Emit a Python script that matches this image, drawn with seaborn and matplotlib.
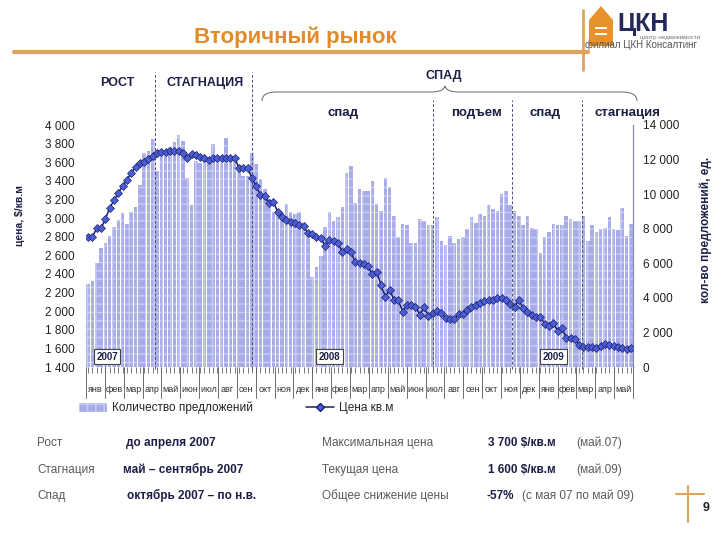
import numpy as np
import pandas as pd
import seaborn as sns
import matplotlib.pyplot as plt
from matplotlib.path import Path
from matplotlib.patches import PathPatch, Patch, Polygon, Rectangle
from matplotlib.lines import Line2D
import matplotlib.transforms as mtransforms

# weekly data, jan 2007 - may 2009
offers = [4800, 5000, 6000, 6900, 7200, 7600, 8100, 8500, 8900, 8300, 8950, 9250, 10500,
          12400, 12500, 13200, 11350, 12200, 12400, 12700, 13000, 13450, 13100, 10950, 9350,
          11900, 11800, 12000, 11800, 12900, 11900,
          12000, 13250, 12000, 12000, 11650, 11050, 11050, 12400, 11750, 10850, 10300, 9700,
          8950, 8950, 8950, 9450, 8950, 8850, 8950, 8350, 7800, 5200, 5800, 6450, 8100, 8950,
          8450, 8650, 9250, 11250, 11650, 9500,
          10300, 10200, 10200, 10750, 9450, 9050, 10950, 10400, 8750, 7500, 8300, 8200, 7200,
          7200, 8550, 8450, 8200, 8200, 8650, 7300, 7050, 7600, 7200, 7400, 7500, 8000, 8650,
          8350, 8850, 8750, 9350, 9150,
          9050, 10000, 10200, 9350, 9050, 8750, 8200, 8750, 8050, 8000, 6600, 7500, 7800, 8300,
          8200, 8200, 8750, 8550, 8450, 8450, 8750, 7300, 8200, 7800, 8000, 8050, 8650, 8000,
          7900, 9200, 7600, 8300]

price = [2800, 2800, 2890, 2890, 2990, 3110, 3190, 3270, 3345, 3410, 3485, 3550, 3590, 3605,
         3635, 3665, 3700, 3710, 3710, 3720, 3720, 3720, 3700, 3645, 3690, 3680, 3655, 3645,
         3625, 3645, 3645,
         3645, 3650, 3645, 3650, 3540, 3535, 3535, 3435, 3340, 3250, 3235, 3160, 3170, 3070,
         3015, 2980, 2955, 2945, 2925, 2910, 2840, 2825, 2800, 2785, 2700, 2765, 2755, 2735,
         2635, 2670, 2640, 2530,
         2515, 2505, 2480, 2395, 2425, 2280, 2155, 2230, 2120, 2120, 1995, 2065, 2065, 2050,
         1960, 2040, 1950, 1975, 2000, 1975, 1930, 1915, 1915, 1965, 1970, 2015, 2050, 2065,
         2085, 2110, 2120, 2125,
         2145, 2140, 2120, 2075, 2050, 2120, 2030, 1995, 1960, 1940, 1940, 1860, 1845, 1870,
         1790, 1815, 1715, 1710, 1700, 1635, 1620, 1610, 1610, 1605, 1625, 1645, 1635, 1630,
         1620, 1600, 1595, 1600]

months = ["янв", "фев", "мар", "апр", "май", "июн", "июл", "авг", "сен", "окт", "ноя", "дек"] * 2 + \
         ["янв", "фев", "мар", "апр", "май"]
years = ["2007", "2008", "2009"]
year_pos = [4.4, 56.0, 108.0]          # week index of the year boxes
period_lines = [15.6, 38.0, 80.0, 98.5, 114.6]  # dashed borders

df = pd.DataFrame({"week": np.arange(len(price)), "offers": offers, "price": price})
n = len(df)

sns.set_style("white")
plt.rcParams['font.family'] = ['Liberation Sans', 'DejaVu Sans']
plt.rcParams['hatch.linewidth'] = 1.0

navy = "#1c2046"
grey = "#5a5a5a"
orange = "#e08b2c"
bar_col = "#a7ace9"
bar_hatch = "#c9ccf3"

W, H = 720, 540
fig = plt.figure(figsize=(7.2, 5.4), dpi=100)

def fx(px):
    return px / W

def fy(py):
    return 1 - py / H

ax = fig.add_axes([fx(86), fy(367), fx(633) - fx(86), fy(125) - fy(367)])
ax2 = ax.twinx()

sns.barplot(data=df, x="week", y="offers", ax=ax2, color=bar_col, saturation=1,
            width=0.82, native_scale=True, edgecolor=bar_hatch, linewidth=0, hatch="++")
sns.lineplot(data=df, x="week", y="price", ax=ax, color="#1b1f6b", lw=1.1,
             marker="D", markersize=3.6, markerfacecolor="#4c5ed6",
             markeredgecolor="#1b1f6b", markeredgewidth=0.5)

ax.set_zorder(ax2.get_zorder() + 1)
ax.patch.set_visible(False)

ax.set_xlim(-0.5, n - 0.5)
ax.set_ylim(1400, 4000)
ax2.set_ylim(0, 14000)

lt = np.arange(1400, 4001, 200)
ax.set_yticks(lt)
ax.set_yticklabels([f"{v:,}".replace(",", " ") for v in lt], fontsize=8.5, color="#222")
rt = np.arange(0, 14001, 2000)
ax2.set_yticks(rt)
ax2.set_yticklabels([f"{v:,}".replace(",", " ") for v in rt], fontsize=8.5, color="#222")
ax.tick_params(axis="y", length=0, pad=8)
ax2.tick_params(axis="y", length=0, pad=7)
ax.set_xlabel("")
ax.set_ylabel("")
ax2.set_ylabel("")

# weekly ticks
ax.set_xticks(np.arange(n))
ax.set_xticklabels([])
ax.tick_params(axis="x", length=4, width=0.5, color="#444", direction="out", bottom=True)

for s in ["top", "left", "right", "bottom"]:
    ax.spines[s].set_visible(False)
for s in ["top", "left", "bottom"]:
    ax2.spines[s].set_visible(False)
ax2.spines["right"].set_color("#8a8fa8")
ax2.spines["right"].set_linewidth(0.9)

trans = mtransforms.blended_transform_factory(ax.transData, ax.transAxes)

# month labels and separators
nm = len(months)
for k in range(nm + 1):
    xb = -0.5 + n * k / nm
    ax.add_line(Line2D([xb, xb], [0, -0.128], transform=trans, color="#555",
                       lw=0.6, clip_on=False))
for k, m in enumerate(months):
    xc = -0.5 + n * (k + 0.5) / nm
    ax.text(xc, -0.095, m, transform=trans, ha="center", va="center",
            fontsize=6.5, color="#333")

# year boxes
for yr, xp in zip(years, year_pos):
    ax.text(xp, 0.043, yr, transform=trans, ha="center", va="center", fontsize=7,
            fontweight="bold", color=navy, zorder=5,
            bbox=dict(boxstyle="square,pad=0.25", fc="white", ec="#444", lw=0.8))

# dashed period borders
tops = [1.219, 1.219, 1.103, 1.103, 1.103]
for xp, tp in zip(period_lines, tops):
    ax.add_line(Line2D([xp, xp], [-0.01, tp], transform=trans, color="#4a5078",
                       lw=0.7, ls=(0, (3, 2)), clip_on=False, zorder=4))

# period labels
lab_kw = dict(ha="center", va="center", fontweight="bold", color=navy)
fig.text(fx(117), fy(83), "РОСТ", fontsize=9, **lab_kw)
fig.text(fx(205), fy(83), "СТАГНАЦИЯ", fontsize=9, **lab_kw)
fig.text(fx(444), fy(76), "СПАД", fontsize=9, **lab_kw)
fig.text(fx(343), fy(113), "спад", fontsize=9.5, **lab_kw)
fig.text(fx(477), fy(113), "подъем", fontsize=9.5, **lab_kw)
fig.text(fx(545), fy(113), "спад", fontsize=9.5, **lab_kw)
fig.text(fx(627), fy(113), "стагнация", fontsize=9.5, **lab_kw)

# brace over the decline period
bp = [(262, 101), (262, 92), (276, 92), (431, 92), (444, 92), (445, 86),
      (446, 92), (459, 92), (622, 92), (637, 92), (637, 101)]
codes = [Path.MOVETO, Path.CURVE3, Path.CURVE3, Path.LINETO, Path.CURVE3, Path.CURVE3,
         Path.CURVE3, Path.CURVE3, Path.LINETO, Path.CURVE3, Path.CURVE3]
brace = Path([(fx(a), fy(b)) for a, b in bp], codes)
fig.patches.append(PathPatch(brace, transform=fig.transFigure, fc="none", ec="#777", lw=0.8))

# axis titles
fig.text(fx(20), fy(215), "цена, $/кв.м", rotation=90, ha="center", va="center",
         fontsize=7.5, fontweight="bold", color=navy)
fig.text(fx(706), fy(230), "кол-во предложений, ед.", rotation=90, ha="center", va="center",
         fontsize=8.5, fontweight="bold", color=navy)

# legend
handles = [Patch(facecolor=bar_col, edgecolor=bar_hatch, lw=0, hatch="++"),
           Line2D([], [], color="#1b1f6b", lw=1.1, marker="D", markersize=3.6,
                  markerfacecolor="#4c5ed6", markeredgecolor="#1b1f6b")]
fig.legend(handles, ["Количество предложений", "Цена кв.м"], loc="center left",
           bbox_to_anchor=(fx(68), fy(408)), ncol=2, frameon=False, fontsize=8.5,
           handlelength=2.4, handleheight=0.8, columnspacing=4.5, handletextpad=0.4)

# title and header decoration
fig.text(fx(295), fy(37), "Вторичный рынок", ha="center", va="center", fontsize=16,
         fontweight="bold", color=orange)
fig.add_artist(Line2D([fx(14), fx(588)], [fy(52), fy(52)], color="#dfa25c", lw=3))
fig.add_artist(Line2D([fx(583), fx(583)], [fy(10), fy(70)], color="#dfa25c", lw=2))
fig.patches.append(Polygon([(fx(589), fy(46)), (fx(589), fy(20)), (fx(601), fy(6)),
                            (fx(613), fy(20)), (fx(613), fy(46))],
                           closed=True, transform=fig.transFigure, fc="#e8922e", ec="none"))
for yy in [27, 33]:
    fig.patches.append(Rectangle((fx(595), fy(yy + 2)), fx(12), 2.2 / H,
                                 transform=fig.transFigure, fc="white", ec="none"))
fig.text(fx(617), fy(24), "ЦКН", ha="left", va="center", fontsize=18,
         fontweight="bold", color="#23295a")
fig.text(fx(640), fy(37), "центр недвижимости", ha="left", va="center", fontsize=4.5,
         color="#777")
fig.text(fx(585), fy(45), "филиал ЦКН Консалтинг", ha="left", va="center", fontsize=7,
         color="#555")

# summary block (baselines)
rows_y = [446, 473, 499]
left_rows = [("Рост", "до апреля 2007", 126), ("Стагнация", "май – сентябрь 2007", 123),
             ("Спад", "октябрь 2007 – по н.в.", 127)]
right_rows = [("Максимальная цена", "3 700 $/кв.м", 488, "(май.07)", 576),
              ("Текущая цена", "1 600 $/кв.м", 488, "(май.09)", 576),
              ("Общее снижение цены", "-57%", 486, "(с мая 07 по май 09)", 522)]
for y, (lab, val, xv) in zip(rows_y, left_rows):
    fig.text(fx(37), fy(y), lab, ha="left", va="baseline", fontsize=8.5, color=grey)
    fig.text(fx(xv), fy(y), val, ha="left", va="baseline", fontsize=8.5,
             fontweight="bold", color=navy)
for y, (lab, val, xv, extra, xe) in zip(rows_y, right_rows):
    fig.text(fx(322), fy(y), lab, ha="left", va="baseline", fontsize=8.5, color=grey)
    fig.text(fx(xv), fy(y), val, ha="left", va="baseline", fontsize=8.5,
             fontweight="bold", color=navy)
    fig.text(fx(xe), fy(y), extra, ha="left", va="baseline", fontsize=8.5, color=grey)

# page number
fig.add_artist(Line2D([fx(688), fx(688)], [fy(486), fy(522)], color="#dfa25c", lw=1.5))
fig.add_artist(Line2D([fx(676), fx(704)], [fy(494), fy(494)], color="#dfa25c", lw=1.5))
fig.text(fx(706), fy(508), "9", ha="center", va="center", fontsize=9,
         fontweight="bold", color="#222")

plt.savefig("out.png", dpi=100)
plt.close()
